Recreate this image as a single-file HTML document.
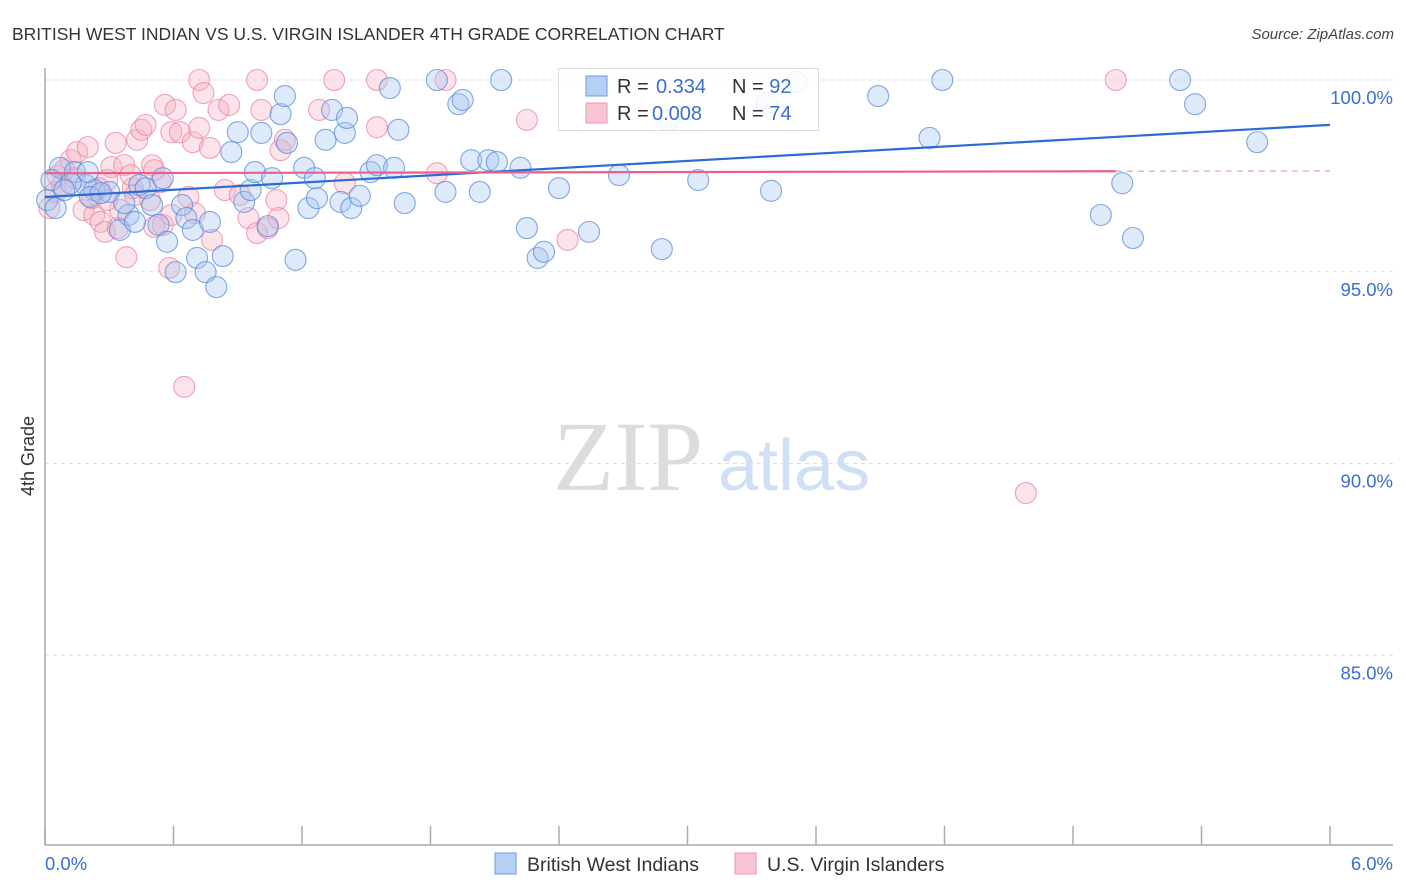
<!DOCTYPE html>
<html><head><meta charset="utf-8">
<style>
body{margin:0;background:#fff;font-family:"Liberation Sans",sans-serif;}
#wrap{position:relative;width:1406px;height:892px;overflow:hidden;}
</style></head>
<body>
<div id="wrap">
<svg id="chart" width="1406" height="892" xmlns="http://www.w3.org/2000/svg" font-family="Liberation Sans, sans-serif">
<text x="12" y="40" font-size="17.5" fill="#333">BRITISH WEST INDIAN VS U.S. VIRGIN ISLANDER 4TH GRADE CORRELATION CHART</text>
<text x="1394" y="39" font-size="15" fill="#444" font-style="italic" text-anchor="end">Source: ZipAtlas.com</text>
<text x="34" y="456" font-size="18" fill="#333" text-anchor="middle" transform="rotate(-90 34 456)">4th Grade</text>
<g>
<text x="553" y="490" font-size="100" fill="#dcdcdc" style="font-family:'Liberation Serif',serif">ZIP</text>
<text x="718" y="490" font-size="72" fill="#cfdff5">atlas</text>
</g>
<g id="grid"></g>
<g id="axes"></g>
<g id="pts"></g>
<g id="lines"></g>
<g>
<rect x="558.5" y="68.5" width="260" height="62" fill="#fff" fill-opacity="0.85" stroke="#ddd"/>
<rect x="586" y="76" width="21" height="20" fill="#b7cff5" stroke="#6e9be0"/>
<rect x="586" y="103" width="21" height="20" fill="#f9c5d4" stroke="#e997b0"/>
<text x="617" y="93" font-size="20" fill="#333">R = <tspan x="656" fill="#3a6fd0">0.334</tspan><tspan x="732">N = </tspan><tspan fill="#3a6fd0">92</tspan></text>
<text x="617" y="120" font-size="20" fill="#333">R = <tspan x="652" fill="#3a6fd0">0.008</tspan><tspan x="732">N = </tspan><tspan fill="#3a6fd0">74</tspan></text>
</g>
<g>
<rect x="495" y="853" width="21" height="21" fill="#b7cff5" stroke="#6e9be0"/>
<text x="527" y="871" font-size="19.5" fill="#333">British West Indians</text>
<rect x="735" y="853" width="21" height="21" fill="#f9c5d4" stroke="#e997b0"/>
<text x="767" y="871" font-size="19.5" fill="#333">U.S. Virgin Islanders</text>
</g>
</svg>
</div>
<script>
const blueX=[0.07,0.14,0.03,0.19,0.23,0.21,0.30,0.35,0.39,0.42,0.44,0.47,0.50,0.53,0.55,0.57,0.61,0.64,0.66,0.69,0.71,0.75,0.77,0.80,0.83,0.87,0.90,0.93,0.96,0.98,1.01,1.04,1.06,1.10,1.12,1.13,1.17,1.21,1.23,1.26,1.27,1.31,1.34,1.38,1.40,1.41,1.43,1.47,1.52,1.55,1.61,1.63,1.65,1.68,1.83,1.87,1.93,1.95,1.99,2.03,2.07,2.11,2.13,2.22,2.25,2.30,2.33,2.40,2.54,2.68,2.88,2.91,3.05,3.37,3.39,3.51,3.89,4.13,4.19,4.93,5.03,5.08,5.30,5.37,5.66,0.01,0.05,0.12,0.26,0.37,0.09,0.20];
const blueY=[97.71,97.60,97.39,97.26,97.13,96.95,97.08,96.09,96.48,96.30,97.26,97.18,96.74,96.22,97.44,95.78,94.99,96.74,96.40,96.09,95.36,94.99,96.30,94.60,95.41,98.12,98.64,96.82,97.13,97.60,98.62,96.19,97.44,99.11,99.58,98.36,95.31,97.71,96.66,97.44,96.92,98.44,99.22,96.82,98.62,99.01,96.66,96.98,97.60,97.78,99.79,97.71,98.70,96.79,100,97.08,99.37,99.48,97.91,97.08,97.91,97.86,100,97.71,96.14,95.36,95.52,97.18,96.04,97.52,95.59,98.96,97.39,99.40,97.11,99.95,99.58,98.49,100,96.48,97.31,95.88,100,99.37,98.38,96.87,96.66,97.31,97.05,96.79,97.13,97.60];
const pinkX=[0.02,0.05,0.06,0.09,0.12,0.15,0.18,0.20,0.23,0.26,0.28,0.31,0.33,0.35,0.37,0.38,0.41,0.43,0.45,0.47,0.49,0.50,0.51,0.54,0.56,0.58,0.59,0.61,0.63,0.65,0.67,0.69,0.70,0.72,0.72,0.74,0.77,0.78,0.81,0.84,0.86,0.95,0.99,0.99,1.01,1.04,1.08,1.09,1.10,1.28,1.35,1.40,1.55,1.55,1.83,1.87,2.25,2.44,4.58,5.00,0.08,0.14,0.22,0.29,0.42,0.55,0.34,0.25,0.91,1.12,0.51,0.29,0.40,0.59];
const pinkY=[96.66,97.08,97.50,97.65,97.91,98.12,96.61,98.25,96.48,96.30,96.04,97.73,98.36,96.61,97.78,95.38,97.18,98.44,98.70,98.83,96.87,97.78,96.17,97.34,99.35,95.10,98.64,99.22,98.64,92.00,96.95,98.38,96.53,98.75,100,99.66,98.23,95.83,99.22,97.13,99.35,96.40,96.01,100,99.22,96.14,96.87,96.40,98.17,99.22,100,97.31,100,98.77,97.57,100,98.96,95.83,89.23,100,97.26,97.44,96.92,97.39,97.00,96.22,96.14,97.18,97.00,98.44,97.65,96.87,97.52,96.48];
const blueTrend=[[0,96.95],[6,98.83]];
const pinkTrend=[[0,97.57],[5.0,97.62]];
const pinkTrendExt=[[5.0,97.62],[6,97.63]];
const yTicks=[100,95,90,85];
const yTickLabels=["100.0%","95.0%","90.0%","85.0%"];
const xTicks=[0,0.6,1.2,1.8,2.4,3.0,3.6,4.2,4.8,5.4,6.0];
const xLabels=[[0,"0.0%"],[6,"6.0%"]];

const NS="http://www.w3.org/2000/svg";
const X=v=>45+v/6*1285;
const Y=v=>80+(100-v)*38.35;
function mk(tag,attrs,parent){const e=document.createElementNS(NS,tag);for(const k in attrs)e.setAttribute(k,attrs[k]);parent.appendChild(e);return e;}
const grid=document.getElementById('grid'),axes=document.getElementById('axes'),pts=document.getElementById('pts'),lines=document.getElementById('lines');
yTicks.forEach((t,i)=>{
 const l=mk('line',{x1:45,x2:1393,y1:Y(t),y2:Y(t),stroke:'#ddd','stroke-dasharray':'4 4'},grid);
 
 
 const tx=mk('text',{x:1393,y:Y(t)+24,'text-anchor':'end','font-size':18.5,fill:'#3a6fd0'},axes);
 tx.textContent=yTickLabels[i];
 
 
});
const ya=mk('line',{x1:45,x2:45,y1:68,y2:845,stroke:'#aaa','stroke-width':1.5},axes);


const xa=mk('line',{x1:45,x2:1393,y1:845,y2:845,stroke:'#aaa','stroke-width':1.5},axes);


xTicks.forEach(t=>{
 const l=mk('line',{x1:X(t),x2:X(t),y1:826,y2:845,stroke:'#aaa','stroke-width':1.5},axes);
 
 
});
xLabels.forEach(([v,s],i)=>{
 const tx=mk('text',{x:i==0?X(v):1393,y:870,'text-anchor':i==0?'start':'end','font-size':18.5,fill:'#3a6fd0'},axes);
 tx.textContent=s;
 
 
});
function drawPts(xs,ys,fill,stroke,name){
 xs.forEach((x,i)=>{
  const c=mk('circle',{cx:X(x),cy:Y(ys[i]),r:10.5,fill:fill,'fill-opacity':0.38,stroke:stroke,'stroke-opacity':0.7,'stroke-width':1.1},pts);
  
  
 });
}
drawPts(pinkX,pinkY,'#f6b3c6','#e8809f','pink-point');
drawPts(blueX,blueY,'#a9c5f1','#4f86d8','blue-point');
function drawLine(d,color,name,dash){
 const l=mk('line',{x1:X(d[0][0]),y1:Y(d[0][1]),x2:X(d[1][0]),y2:Y(d[1][1]),stroke:color,'stroke-width':dash?1.2:2.2},lines);
 if(dash)l.setAttribute('stroke-dasharray','6 5');
 
 
}
drawLine(blueTrend,'#2b6bd6','blue-trend-line');
drawLine(pinkTrend,'#ea5f8c','pink-trend-line');
drawLine(pinkTrendExt,'#ec9ab4','pink-trend-extension',true);
</script>
</body></html>
